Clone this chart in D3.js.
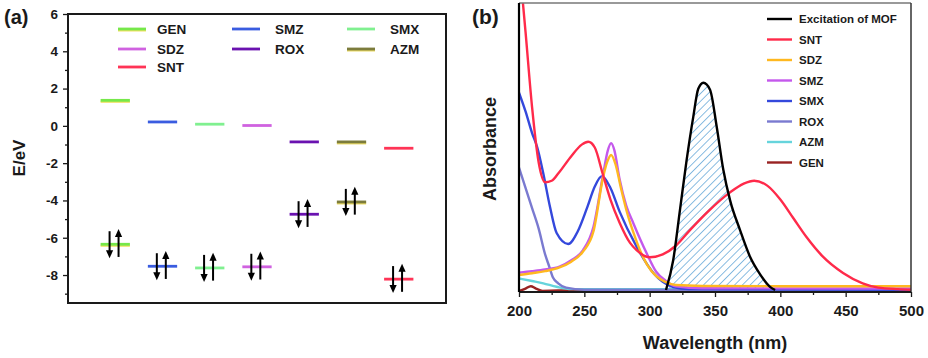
<!DOCTYPE html>
<html><head><meta charset="utf-8">
<script src="https://cdn.jsdelivr.net/npm/d3@7"></script>
<style>
html,body{margin:0;padding:0;background:#fff;}
svg{display:block;font-family:"Liberation Sans",Arial,sans-serif;font-weight:bold;}
</style></head>
<body>
<svg id="chart" width="928" height="358"></svg>
<script>
// ---------- Panel (a): HOMO / LUMO energy levels ----------
const molecules = ["GEN","SMZ","SMX","SDZ","ROX","AZM","SNT"];
const lumo = [1.37, 0.21, 0.09, 0.02, -0.86, -0.86, -1.2];
const homo = [-6.35, -7.53, -7.62, -7.56, -4.74, -4.08, -8.22];
const energyTicks = [-8, -6, -4, -2, 0, 2, 4, 6];
const energyMinorTicks = [-9, -7, -5, -3, -1, 1, 3, 5];

// ---------- Panel (b): absorption spectra ----------
const wavelengthTicks = [200, 250, 300, 350, 400, 450, 500];
const wavelengthMinorTicks = [225, 275, 325, 375, 425, 475];
const excitationMOF = [[312.5,0.007],[318,0.11],[323.2,0.284],[328.3,0.457],[333.4,0.607],[337.2,0.703],[341.1,0.724],[346.2,0.70],[351.3,0.572],[356.4,0.422],[361.5,0.318],[369.1,0.215],[376.8,0.122],[384.4,0.062],[392.1,0.018],[396,0.007]];
const SNT = [[200,1.15],[205,0.90],[210,0.64],[215,0.45],[220,0.38],[225,0.385],[230,0.41],[240,0.47],[248,0.51],[253,0.52],[258,0.50],[264,0.41],[270,0.32],[277,0.24],[285,0.17],[290,0.145],[300,0.12],[310,0.13],[320,0.16],[331,0.215],[345,0.28],[361,0.343],[372,0.375],[380,0.385],[390,0.368],[400,0.32],[410,0.255],[420,0.19],[432,0.125],[448,0.066],[463,0.03],[475,0.015],[490,0.01],[500,0.008]];
const SDZ = [[200,0.059],[210,0.065],[220,0.072],[231,0.085],[240,0.105],[249,0.14],[257,0.21],[264.5,0.40],[267.5,0.45],[270.5,0.474],[274,0.44],[278,0.36],[283,0.27],[288,0.20],[293,0.14],[298,0.095],[305,0.055],[312,0.035],[320,0.024],[340,0.021],[400,0.02],[500,0.02]];
const SMZ = [[200,0.067],[210,0.072],[220,0.078],[231,0.088],[240,0.11],[249,0.145],[257,0.226],[264.5,0.41],[268,0.49],[270.5,0.515],[273,0.49],[277,0.39],[282,0.30],[287.5,0.238],[293,0.18],[297.7,0.134],[305,0.07],[312,0.04],[320,0.02],[340,0.013],[500,0.012]];
const SMX = [[200,0.69],[205,0.625],[210,0.55],[214,0.50],[218.6,0.41],[223.7,0.295],[228.8,0.204],[237.7,0.166],[245,0.21],[252,0.29],[258,0.365],[263.3,0.40],[270,0.36],[277,0.278],[290,0.157],[303,0.065],[310,0.035],[318,0.017],[330,0.01],[500,0.008]];
const ROX = [[200,0.43],[205,0.36],[210,0.29],[215,0.22],[220,0.13],[223,0.09],[226,0.05],[230,0.03],[236,0.015],[250,0.008],[500,0.006]];
const AZM = [[200,0.047],[210,0.038],[218.6,0.03],[228.8,0.018],[240,0.01],[500,0.009]];
const GEN = [[200,0.003],[205,0.012],[209,0.02],[213,0.012],[218,0.004],[230,0.005],[500,0.005]];

// ---------- styles ----------
const levelColor = {GEN:"#76e84a", SMZ:"#3a5ce0", SMX:"#80f090", SDZ:"#d062e0", ROX:"#6a12b0", AZM:"#7c7c3c", SNT:"#ff3456"};
const levelUnder = {GEN:"#f0e060", AZM:"#e8d860"};
const spectra = [
  {name:"SNT", data:SNT, color:"#ff2a4a"},
  {name:"SDZ", data:SDZ, color:"#ffb820"},
  {name:"SMZ", data:SMZ, color:"#c458ec"},
  {name:"SMX", data:SMX, color:"#3448dc"},
  {name:"ROX", data:ROX, color:"#7a7ad0"},
  {name:"AZM", data:AZM, color:"#66d4dc"},
  {name:"GEN", data:GEN, color:"#992222"}
];
const legendB = [{name:"Excitation of MOF", color:"#000"}, ...spectra.map(s => ({name:s.name, color:s.color}))];

const svg = d3.select("#chart");
const ink = "#1a1a1a";

// ===== Panel (a) =====
const xA = d3.scaleLinear().domain([0, 8]).range([68, 446]);
const yA = d3.scaleLinear().domain([-9.5, 6]).range([303, 14]);
const gA = svg.append("g");

gA.append("text").attr("x", 4).attr("y", 24).attr("font-size", 20).attr("fill", ink).text("(a)");

const axA = gA.append("g").attr("transform", `translate(${xA(0)},0)`)
  .call(d3.axisLeft(yA).tickValues(energyTicks).tickSize(5).tickPadding(5).tickFormat(d => String(d)));
axA.selectAll("text").attr("font-size", 13.5).attr("font-family", "Liberation Sans, Arial, sans-serif").attr("font-weight", "bold").attr("fill", ink);
axA.selectAll("line").attr("stroke", ink).attr("stroke-width", 1.3);
axA.select(".domain").remove();
const axAm = gA.append("g").attr("transform", `translate(${xA(0)},0)`)
  .call(d3.axisLeft(yA).tickValues(energyMinorTicks).tickSize(3).tickFormat(""));
axAm.selectAll("line").attr("stroke", ink).attr("stroke-width", 1.3);
axAm.select(".domain").remove();

gA.append("rect").attr("x", xA(0)).attr("y", yA(6)).attr("width", xA(8) - xA(0)).attr("height", yA(-9.5) - yA(6))
  .attr("fill", "none").attr("stroke", ink).attr("stroke-width", 2);

gA.append("text").attr("transform", "translate(25,158) rotate(-90)").attr("text-anchor", "middle")
  .attr("font-size", 17).attr("fill", ink).text("E/eV");

// levels
const halfW = 0.31;
function levelBar(i, v) {
  const m = molecules[i], cx = i + 1;
  if (levelUnder[m]) {
    gA.append("line").attr("x1", xA(cx - halfW)).attr("x2", xA(cx + halfW)).attr("y1", yA(v) + 1.5).attr("y2", yA(v) + 1.5)
      .attr("stroke", levelUnder[m]).attr("stroke-width", 2);
  }
  gA.append("line").attr("x1", xA(cx - halfW)).attr("x2", xA(cx + halfW)).attr("y1", yA(v)).attr("y2", yA(v))
    .attr("stroke", levelColor[m]).attr("stroke-width", 2.8);
}
molecules.forEach((m, i) => { levelBar(i, lumo[i]); levelBar(i, homo[i]); });

// electron arrows
function arrow(x, yFrom, yTo) {
  const dir = yTo > yFrom ? 1 : -1;
  const headL = 8, headW = 3.6;
  gA.append("line").attr("x1", x).attr("x2", x).attr("y1", yFrom).attr("y2", yTo - dir * headL + dir)
    .attr("stroke", "#000").attr("stroke-width", 2);
  gA.append("path").attr("d", `M${x - headW},${yTo - dir * headL} L${x + headW},${yTo - dir * headL} L${x},${yTo} Z`).attr("fill", "#000");
}
homo.forEach((v, i) => {
  const cx = i + 1;
  arrow(xA(cx - 0.12), yA(v + 0.7), yA(v - 0.75));
  arrow(xA(cx + 0.07), yA(v - 0.68), yA(v + 0.82));
});

// legend (a)
const legA = gA.append("g");
const colX = [118, 232, 347], textX = [157, 275, 390], rowY = [29, 49, 67];
molecules.forEach((m, i) => {
  const c = i % 3, r = Math.floor(i / 3);
  if (levelUnder[m]) legA.append("line").attr("x1", colX[c]).attr("x2", colX[c] + 28).attr("y1", rowY[r] + 1.5).attr("y2", rowY[r] + 1.5).attr("stroke", levelUnder[m]).attr("stroke-width", 2);
  legA.append("line").attr("x1", colX[c]).attr("x2", colX[c] + 28).attr("y1", rowY[r]).attr("y2", rowY[r])
    .attr("stroke", levelColor[m]).attr("stroke-width", 2.8);
  legA.append("text").attr("x", textX[c]).attr("y", rowY[r] + 5).attr("font-size", 13.5).attr("fill", ink).text(m);
});

// ===== Panel (b) =====
const xB = d3.scaleLinear().domain([200, 500]).range([519, 911]);
const yB = d3.scaleLinear().domain([0, 1]).range([292, 3]);
const gB = svg.append("g");

const defs = svg.append("defs");
defs.append("clipPath").attr("id", "clipB").append("rect")
  .attr("x", xB(200)).attr("y", yB(1)).attr("width", xB(500) - xB(200)).attr("height", yB(0) - yB(1));
const pat = defs.append("pattern").attr("id", "hatch").attr("patternUnits", "userSpaceOnUse")
  .attr("width", 5.5).attr("height", 5.5).attr("patternTransform", "rotate(45)");
pat.append("line").attr("x1", 0).attr("y1", 0).attr("x2", 0).attr("y2", 5.5).attr("stroke", "#7db6df").attr("stroke-width", 1.8);

gB.append("text").attr("x", 472).attr("y", 24).attr("font-size", 21).attr("fill", ink).text("(b)");

const plotB = gB.append("g").attr("clip-path", "url(#clipB)");
const line = d3.line().x(d => xB(d[0])).y(d => yB(d[1])).curve(d3.curveMonotoneX);
const area = d3.area().x(d => xB(d[0])).y0(yB(0.004)).y1(d => yB(d[1])).curve(d3.curveMonotoneX);

plotB.append("path").attr("d", area(excitationMOF)).attr("fill", "url(#hatch)");
spectra.slice().reverse().forEach(s => {
  plotB.append("path").attr("d", line(s.data)).attr("fill", "none").attr("stroke", s.color).attr("stroke-width", 2.4);
});
plotB.append("path").attr("d", line(excitationMOF)).attr("fill", "none").attr("stroke", "#000").attr("stroke-width", 2.4);

// axes (b)
const axB = gB.append("g").attr("transform", `translate(0,${yB(0)})`)
  .call(d3.axisBottom(xB).tickValues(wavelengthTicks).tickSize(5).tickPadding(8).tickFormat(d => String(d)));
axB.selectAll("text").attr("font-size", 15).attr("font-family", "Liberation Sans, Arial, sans-serif").attr("font-weight", "bold").attr("fill", ink);
axB.selectAll("line").attr("stroke", ink).attr("stroke-width", 1.3);
axB.select(".domain").remove();
const axBm = gB.append("g").attr("transform", `translate(0,${yB(0)})`)
  .call(d3.axisBottom(xB).tickValues(wavelengthMinorTicks).tickSize(3).tickFormat(""));
axBm.selectAll("line").attr("stroke", ink).attr("stroke-width", 1.3);
axBm.select(".domain").remove();

gB.append("line").attr("x1", xB(200)).attr("x2", xB(500)).attr("y1", yB(1)).attr("y2", yB(1)).attr("stroke", "#777").attr("stroke-width", 1.5);
gB.append("line").attr("x1", xB(500)).attr("x2", xB(500)).attr("y1", yB(1)).attr("y2", yB(0)).attr("stroke", "#333").attr("stroke-width", 1.5);
gB.append("line").attr("x1", xB(200)).attr("x2", xB(500)).attr("y1", yB(0)).attr("y2", yB(0)).attr("stroke", ink).attr("stroke-width", 2);
gB.append("line").attr("x1", xB(200)).attr("x2", xB(200)).attr("y1", yB(1)).attr("y2", yB(0)).attr("stroke", "#000").attr("stroke-width", 2.2);

gB.append("text").attr("x", 715).attr("y", 349).attr("text-anchor", "middle").attr("font-size", 18).attr("fill", ink).text("Wavelength (nm)");
gB.append("text").attr("transform", "translate(496,149) rotate(-90)").attr("text-anchor", "middle").attr("font-size", 18).attr("fill", ink).text("Absorbance");

// legend (b)
const legB = gB.append("g");
legendB.forEach((d, i) => {
  const y = 19 + i * 20.5;
  legB.append("line").attr("x1", 767).attr("x2", 792).attr("y1", y).attr("y2", y).attr("stroke", d.color).attr("stroke-width", 2.4);
  legB.append("text").attr("x", 799).attr("y", y + 4).attr("font-size", 11.5).attr("fill", ink).text(d.name);
});
</script>
</body></html>
